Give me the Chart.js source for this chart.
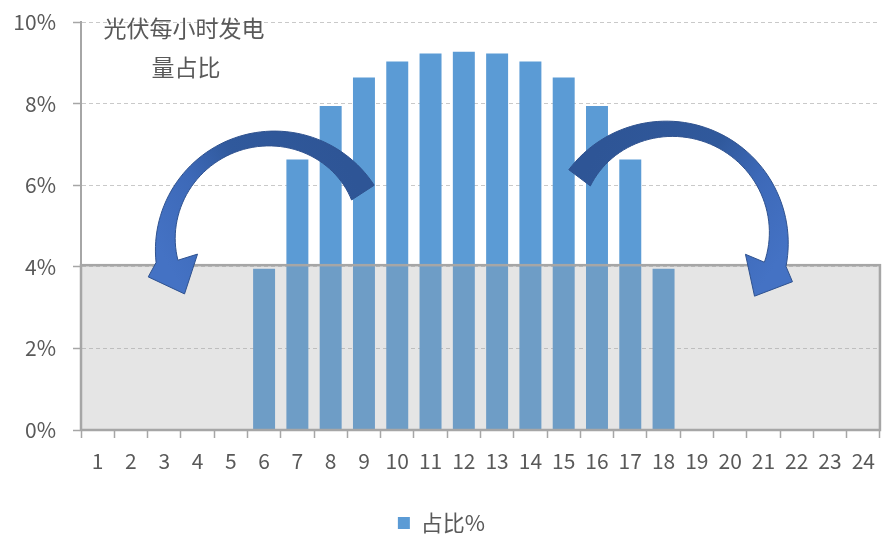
<!DOCTYPE html>
<html>
<head>
<meta charset="utf-8">
<script src="https://cdn.jsdelivr.net/npm/chart.js@4"></script>
<style>
  html, body { margin: 0; padding: 0; background: #fff; }
</style>
</head>
<body>
<canvas id="chart" width="885" height="536"></canvas>
<script>
// hourly share of daily PV generation, in percent
const hours = ['1', '2', '3', '4', '5', '6', '7', '8', '9', '10', '11', '12',
               '13', '14', '15', '16', '17', '18', '19', '20', '21', '22', '23', '24'];
const share = [0, 0, 0, 0, 0, 3.95, 6.63, 7.94, 8.64, 9.03, 9.23, 9.27,
               9.23, 9.03, 8.64, 7.94, 6.63, 3.95, 0, 0, 0, 0, 0, 0];
const threshold = 4.04;
const seriesName = '占比%';
const titleLines = ['光伏每小时发电', '量占比'];

const textColor = '#595959';
const axisColor = '#a6a6a6';
Chart.defaults.font.family = '"Noto Sans CJK SC", "Noto Sans", sans-serif';
Chart.defaults.color = textColor;

// curved block arrow: arc round (cx, cy), body tapering from tail to head
const leftArrow = {at: [5.31, 4.41], r: 119, from: -33, to: -186, dir: -1, w0: 27, wm: 15, tm: 0.37, w1: 22};
const rightArrow = {at: [17.08, 4.58], r: 122, from: -143, to: 11, dir: 1, w0: 27, wm: 15, tm: 0.37, w1: 22};

function drawCurvedArrow(ctx, cx, cy, s) {
  const rad = d => d * Math.PI / 180;
  const pt = (a, r) => [cx + r * Math.cos(rad(a)), cy + r * Math.sin(rad(a))];
  // quadratic width profile through tail, top and head
  const width = t => {
    const a = s.w0 * (t - s.tm) * (t - 1) / ((0 - s.tm) * (0 - 1));
    const b = s.wm * t * (t - 1) / (s.tm * (s.tm - 1));
    const c = s.w1 * t * (t - s.tm) / (1 * (1 - s.tm));
    return a + b + c;
  };
  const n = 60;
  const outer = [], inner = [];
  for (let i = 0; i <= n; i++) {
    const t = i / n;
    const a = s.from + (s.to - s.from) * t;
    outer.push(pt(a, s.r));
    inner.push(pt(a, s.r - width(t)));
  }
  const d = s.dir;
  const tail = pt(s.from, s.r - s.w0 / 2);
  const tip = pt(s.to + d * 20, s.r - 19);

  ctx.save();
  ctx.beginPath();
  outer.forEach((p, i) => i ? ctx.lineTo(p[0], p[1]) : ctx.moveTo(p[0], p[1]));
  ctx.lineTo(...pt(s.to + d * 6, s.r + 10));
  ctx.lineTo(...tip);
  ctx.lineTo(...pt(s.to - d * 3, s.r - 42));
  for (let i = inner.length - 1; i >= 0; i--) ctx.lineTo(inner[i][0], inner[i][1]);
  ctx.closePath();
  const g = ctx.createLinearGradient(tail[0], tail[1], tip[0], tip[1]);
  g.addColorStop(0, '#2e5596');
  g.addColorStop(0.45, '#30599c');
  g.addColorStop(0.7, '#3d69b8');
  g.addColorStop(1, '#4472c4');
  ctx.fillStyle = g;
  ctx.fill();
  ctx.strokeStyle = '#2f528f';
  ctx.lineWidth = 1;
  ctx.stroke();
  ctx.restore();
}

const overlay = {
  id: 'overlay',
  afterDatasetsDraw(chart) {
    const {ctx, chartArea, scales: {x, y}} = chart;

    // shaded band up to the threshold line
    const top = y.getPixelForValue(threshold);
    const bottom = y.getPixelForValue(0);
    ctx.save();
    ctx.fillStyle = 'rgba(160,160,160,0.28)';
    ctx.fillRect(x.left, top, x.right - x.left, bottom - top);
    ctx.strokeStyle = axisColor;
    ctx.lineWidth = 2.5;
    ctx.strokeRect(x.left, top, x.right - x.left, bottom - top);
    ctx.restore();

    [leftArrow, rightArrow].forEach(s => {
      drawCurvedArrow(ctx, x.getPixelForValue(s.at[0]), y.getPixelForValue(s.at[1]), s);
    });

    // caption in the top-left corner
    ctx.save();
    ctx.fillStyle = textColor;
    ctx.font = '23px "Noto Sans CJK SC", sans-serif';
    ctx.textAlign = 'center';
    ctx.textBaseline = 'middle';
    ctx.fillText(titleLines[0], chartArea.left + 103, chartArea.top + 6);
    ctx.fillText(titleLines[1], chartArea.left + 105, chartArea.top + 45);
    ctx.restore();
  }
};

new Chart(document.getElementById('chart'), {
  type: 'bar',
  data: {
    labels: hours,
    datasets: [{
      label: seriesName,
      data: share,
      backgroundColor: '#5b9bd5',
      borderWidth: 0,
      barPercentage: 0.66,
      categoryPercentage: 1
    }]
  },
  options: {
    responsive: false,
    animation: false,
    layout: {padding: {top: 22, right: 2, left: 0, bottom: 0}},
    scales: {
      x: {
        afterFit: scale => { scale.height = 72; },
        grid: {
          drawOnChartArea: false,
          drawTicks: true,
          tickLength: 8,
          tickColor: axisColor,
          tickWidth: 1.5
        },
        border: {color: axisColor, width: 2},
        ticks: {padding: 10, font: {size: 21}, color: textColor, maxRotation: 0, autoSkip: false}
      },
      y: {
        min: 0,
        max: 10,
        afterFit: scale => {
          scale.width = 81;
          scale.paddingTop = 0;
          scale.paddingBottom = 0;
        },
        ticks: {
          stepSize: 2,
          padding: 17,
          font: {size: 21},
          color: textColor,
          callback: v => v + '%'
        },
        grid: {
          color: ctx => ctx.tick && ctx.tick.value === 0 ? 'rgba(0,0,0,0)' : '#c9c9c9',
          tickColor: axisColor,
          tickLength: 8,
          tickWidth: 1.5
        },
        border: {color: axisColor, width: 2, dash: [4, 3]}
      }
    },
    plugins: {
      legend: {
        position: 'bottom',
        maxHeight: 34,
        labels: {
          boxWidth: 12,
          boxHeight: 12,
          padding: 10,
          color: textColor,
          font: {size: 22}
        }
      },
      tooltip: {enabled: false}
    }
  },
  plugins: [overlay]
});
</script>
</body>
</html>
